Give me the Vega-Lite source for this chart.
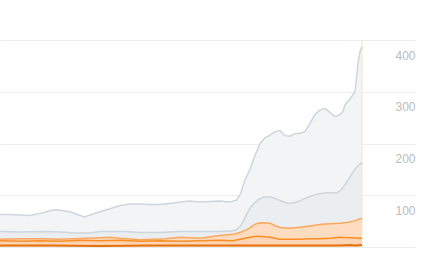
{
  "$schema": "https://vega.github.io/schema/vega-lite/v6.json",
  "width": 415,
  "height": 207,
  "autosize": {"type": "none"},
  "padding": {"left": 0, "top": 40, "right": 13, "bottom": 7},
  "background": "#ffffff",
  "config": {"view": {"stroke": null}},
  "datasets": {
    "ghi": [{"x":0,"v":63},{"x":10,"v":63},{"x":20,"v":62},{"x":30,"v":61},{"x":40,"v":65},{"x":50,"v":70},{"x":55,"v":72},{"x":60,"v":71},{"x":70,"v":68},{"x":80,"v":61},{"x":85,"v":58},{"x":90,"v":62},{"x":100,"v":68},{"x":110,"v":74},{"x":120,"v":80},{"x":130,"v":83},{"x":140,"v":83},{"x":150,"v":82},{"x":160,"v":82},{"x":170,"v":84},{"x":180,"v":87},{"x":190,"v":89},{"x":200,"v":87},{"x":210,"v":88},{"x":220,"v":89},{"x":230,"v":87},{"x":236,"v":90},{"x":240,"v":100},{"x":245,"v":130},{"x":250,"v":150},{"x":255,"v":177},{"x":260,"v":200},{"x":265,"v":211},{"x":270,"v":216},{"x":275,"v":223},{"x":280,"v":225},{"x":285,"v":215},{"x":290,"v":214},{"x":295,"v":219},{"x":300,"v":220},{"x":305,"v":223},{"x":310,"v":239},{"x":315,"v":256},{"x":320,"v":265},{"x":325,"v":268},{"x":330,"v":260},{"x":335,"v":252},{"x":340,"v":256},{"x":343,"v":262},{"x":345,"v":275},{"x":350,"v":286},{"x":355,"v":300},{"x":358,"v":355},{"x":360,"v":378},{"x":362,"v":387}],
    "glo": [{"x":0,"v":30},{"x":20,"v":29},{"x":45,"v":30},{"x":60,"v":29},{"x":75,"v":27},{"x":90,"v":27},{"x":100,"v":30},{"x":125,"v":30},{"x":140,"v":28},{"x":160,"v":28},{"x":180,"v":30},{"x":200,"v":30},{"x":220,"v":30},{"x":230,"v":31},{"x":236,"v":33},{"x":240,"v":39},{"x":244,"v":52},{"x":247,"v":65},{"x":251,"v":78},{"x":254,"v":84},{"x":258,"v":91},{"x":264,"v":97},{"x":270,"v":97},{"x":276,"v":93},{"x":281,"v":89},{"x":288,"v":84},{"x":295,"v":86},{"x":301,"v":90},{"x":310,"v":98},{"x":317,"v":102},{"x":325,"v":105},{"x":337,"v":105},{"x":341,"v":110},{"x":347,"v":126},{"x":354,"v":148},{"x":358,"v":157},{"x":361,"v":162},{"x":362,"v":159}],
    "ohi": [{"x":0,"v":15},{"x":20,"v":16},{"x":40,"v":16},{"x":60,"v":15},{"x":85,"v":17},{"x":100,"v":18},{"x":110,"v":19},{"x":120,"v":17},{"x":140,"v":14},{"x":165,"v":16},{"x":180,"v":19},{"x":200,"v":17},{"x":220,"v":22},{"x":235,"v":25},{"x":240,"v":28},{"x":245,"v":32},{"x":250,"v":37},{"x":255,"v":44},{"x":260,"v":47},{"x":270,"v":46},{"x":275,"v":41},{"x":282,"v":37},{"x":290,"v":36},{"x":300,"v":38},{"x":308,"v":40},{"x":315,"v":42},{"x":322,"v":44},{"x":330,"v":45},{"x":340,"v":46},{"x":348,"v":48},{"x":355,"v":51},{"x":360,"v":54},{"x":362,"v":55}],
    "omid": [{"x":0,"v":12},{"x":20,"v":11},{"x":40,"v":12},{"x":60,"v":11},{"x":80,"v":13},{"x":100,"v":12},{"x":120,"v":13},{"x":140,"v":11},{"x":160,"v":12},{"x":180,"v":11},{"x":200,"v":12},{"x":220,"v":13},{"x":233,"v":12},{"x":240,"v":15},{"x":250,"v":19},{"x":257,"v":21},{"x":265,"v":20},{"x":270,"v":19},{"x":280,"v":15},{"x":290,"v":15},{"x":300,"v":15},{"x":310,"v":16},{"x":320,"v":16},{"x":330,"v":17},{"x":340,"v":19},{"x":350,"v":18},{"x":360,"v":17},{"x":362,"v":17}],
    "olo": [{"x":0,"v":3},{"x":50,"v":3},{"x":100,"v":2},{"x":150,"v":3},{"x":200,"v":3},{"x":250,"v":3},{"x":300,"v":3},{"x":340,"v":3},{"x":350,"v":4},{"x":355,"v":3},{"x":362,"v":4}],
    "now": [{"x":362}]
  },
  "encoding": {
    "x": {"field": "x", "type": "quantitative", "scale": {"domain": [0, 415], "nice": false, "zero": false}, "axis": null},
    "y": {"field": "v", "type": "quantitative", "scale": {"domain": [0, 400], "nice": false},
      "axis": {"orient": "right", "values": [0, 100, 200, 300, 400], "grid": true, "gridColor": "#ececec", "gridWidth": 1, "domain": false, "ticks": false, "labelAlign": "right", "labelPadding": 0, "labelBaseline": "middle", "labelOffset": 15, "labelColor": "#bbbbbb", "labelFontSize": 12, "labelFont": "Liberation Sans", "title": null, "labelExpr": "datum.value === 0 ? '' : datum.label"}}
  },
  "layer": [
    {"data": {"name": "ghi"}, "mark": {"type": "area", "color": "#f3f4f6"}},
    {"data": {"name": "glo"}, "mark": {"type": "area", "color": "#dde1e6", "opacity": 0.35}},
    {"data": {"name": "ohi"}, "mark": {"type": "area", "color": "#fedcc0"}},
    {"data": {"name": "omid"}, "mark": {"type": "area", "color": "#fdc79b", "opacity": 0.3}},
    {"data": {"name": "now"}, "mark": {"type": "rule", "color": "#fde0c8", "strokeWidth": 1}, "encoding": {"y": {"value": 0}, "y2": {"value": 207}}},
    {"data": {"name": "ghi"}, "mark": {"type": "line", "color": "#cfd5dc", "strokeWidth": 1.5}},
    {"data": {"name": "glo"}, "mark": {"type": "line", "color": "#cfd5dc", "strokeWidth": 1.5}},
    {"data": {"name": "ohi"}, "mark": {"type": "line", "color": "#fca75e", "strokeWidth": 1.5}},
    {"data": {"name": "omid"}, "mark": {"type": "line", "color": "#fb8d22", "strokeWidth": 1.5}},
    {"data": {"name": "olo"}, "mark": {"type": "line", "color": "#e4720a", "strokeWidth": 2}}
  ]
}
